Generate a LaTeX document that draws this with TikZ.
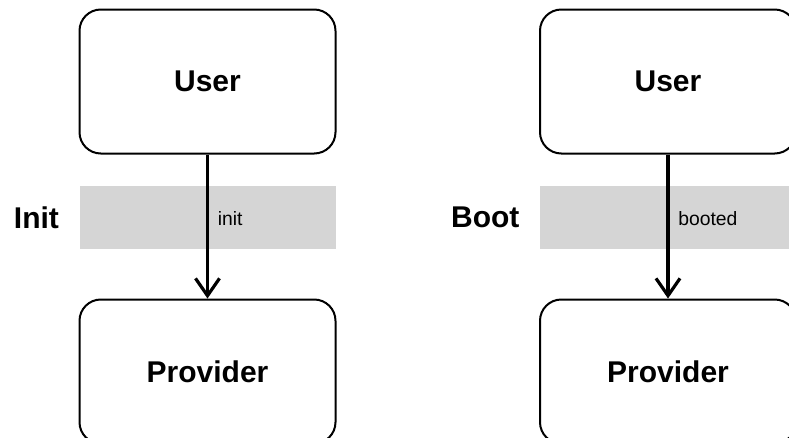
\documentclass[tikz,border=0pt]{standalone}
\usepackage{fontspec}
\setmainfont{Liberation Sans}
\usetikzlibrary{arrows.meta, positioning}
\definecolor{bandgray}{HTML}{D5D5D5}
\tikzset{
  % riquadro di un partecipante
  actor/.style={draw=black, line width=1.5pt, rounded corners=16pt, minimum width=192pt,
    minimum height=108pt, inner sep=0pt, font=\fontsize{22.5}{27}\selectfont\bfseries},
  % fascia grigia di una fase
  phase/.style={fill=bandgray, minimum width=192pt, minimum height=47pt, inner sep=0pt},
  % etichette
  phaselbl/.style={inner sep=0pt, font=\fontsize{22.5}{27}\selectfont\bfseries},
  msglbl/.style={inner sep=0pt, anchor=west, font=\fontsize{14.5}{17}\selectfont},
  % freccia del messaggio
  call/.style={-{Straight Barb[length=13pt, width=18pt]}, line width=2.4pt},
}

\begin{document}
\begin{tikzpicture}[x=0.75pt, y=-0.75pt]
  \useasboundingbox (0,0) rectangle (789,437);
  \clip (0,0) rectangle (789,437);
  \foreach \x/\fase/\msg [count=\i] in {207.5/Init/init, 668/Boot/booted} {
    % fascia della fase
    \node[phase] (band\i) at (\x,217.5) {};
    \node[phaselbl, left=15pt of band\i] (fase\i) {\fase};
    % partecipanti
    \node[actor] (user\i) at (\x,81.5) {User};
    \node[actor, below=108pt of user\i] (prov\i) {Provider};
    \draw[call] (user\i) -- (prov\i);
    \node[msglbl] (msg\i) at ([xshift=7.5pt, yshift=-1pt]band\i.center) {\msg};
  }
\end{tikzpicture}
\end{document}
